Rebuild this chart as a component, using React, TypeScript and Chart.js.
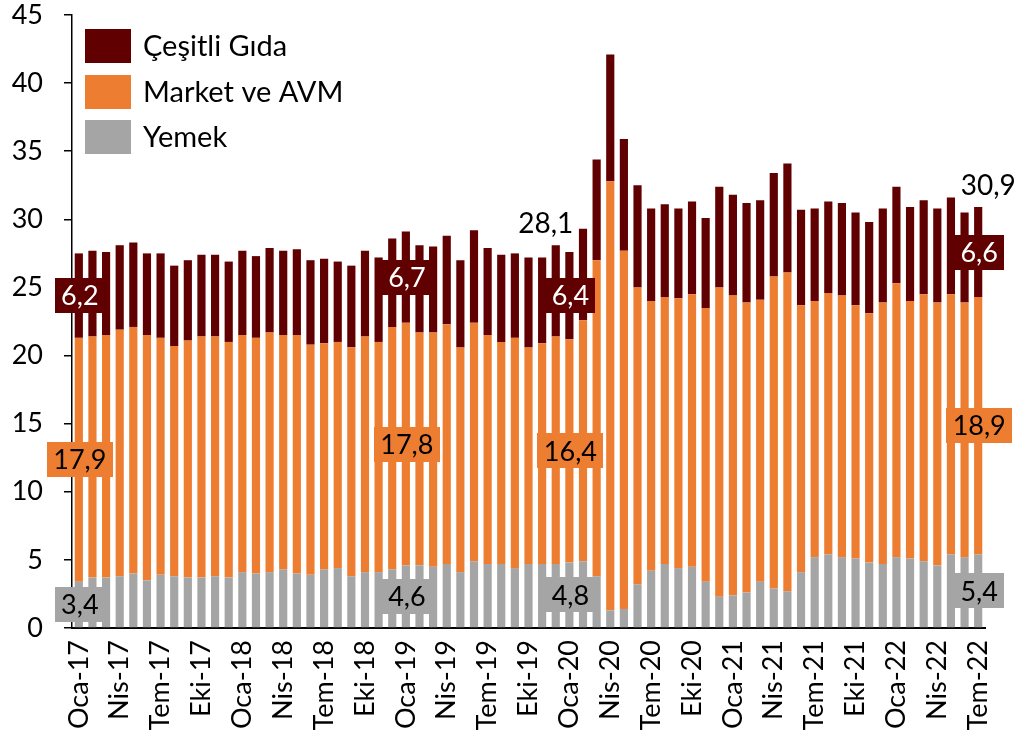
import React, { useEffect, useRef } from 'react';
import { Chart, registerables } from 'chart.js';

Chart.register(...registerables);

const categories = [
  'Oca-17', 'Şub-17', 'Mar-17', 'Nis-17', 'May-17', 'Haz-17', 'Tem-17', 'Ağu-17', 'Eyl-17', 'Eki-17', 'Kas-17', 'Ara-17',
  'Oca-18', 'Şub-18', 'Mar-18', 'Nis-18', 'May-18', 'Haz-18', 'Tem-18', 'Ağu-18', 'Eyl-18', 'Eki-18', 'Kas-18', 'Ara-18',
  'Oca-19', 'Şub-19', 'Mar-19', 'Nis-19', 'May-19', 'Haz-19', 'Tem-19', 'Ağu-19', 'Eyl-19', 'Eki-19', 'Kas-19', 'Ara-19',
  'Oca-20', 'Şub-20', 'Mar-20', 'Nis-20', 'May-20', 'Haz-20', 'Tem-20', 'Ağu-20', 'Eyl-20', 'Eki-20', 'Kas-20', 'Ara-20',
  'Oca-21', 'Şub-21', 'Mar-21', 'Nis-21', 'May-21', 'Haz-21', 'Tem-21', 'Ağu-21', 'Eyl-21', 'Eki-21', 'Kas-21', 'Ara-21',
  'Oca-22', 'Şub-22', 'Mar-22', 'Nis-22', 'May-22', 'Haz-22', 'Tem-22',
];

// Yemek (bottom, gray)
const yemek = [
  3.4, 3.7, 3.7, 3.8, 4.0, 3.5, 3.9, 3.8, 3.7, 3.7, 3.8, 3.7,
  4.1, 4.0, 4.1, 4.3, 4.0, 3.9, 4.3, 4.4, 3.8, 4.1, 4.1, 4.3,
  4.6, 4.6, 4.5, 4.7, 4.1, 4.9, 4.7, 4.7, 4.4, 4.7, 4.7, 4.7,
  4.8, 4.9, 3.8, 1.3, 1.4, 3.2, 4.2, 4.7, 4.4, 4.5, 3.4, 2.3,
  2.4, 2.6, 3.4, 2.9, 2.7, 4.1, 5.2, 5.4, 5.2, 5.1, 4.8, 4.7,
  5.2, 5.1, 4.9, 4.6, 5.4, 5.2, 5.4,
];

// Market ve AVM (middle, orange)
const market = [
  17.9, 17.7, 17.8, 18.1, 18.1, 18.0, 17.4, 16.9, 17.4, 17.7, 17.6, 17.3,
  17.4, 17.3, 17.6, 17.2, 17.5, 16.9, 16.6, 16.6, 16.8, 17.3, 16.9, 17.8,
  17.8, 17.1, 17.2, 17.6, 16.5, 17.5, 16.8, 16.3, 16.9, 15.9, 16.2, 16.7,
  16.4, 17.7, 23.2, 31.5, 26.3, 21.8, 19.8, 19.6, 19.8, 20.0, 20.1, 22.7,
  22.0, 21.3, 20.7, 22.9, 23.4, 19.6, 18.8, 19.2, 19.2, 18.6, 18.3, 19.2,
  20.1, 18.9, 19.6, 19.3, 19.1, 18.7, 18.9,
];

// Çeşitli Gıda (top, dark red)
const cesitli = [
  6.2, 6.3, 6.1, 6.2, 6.2, 6.0, 6.2, 5.9, 5.9, 6.0, 6.0, 5.9,
  6.2, 6.0, 6.2, 6.2, 6.3, 6.2, 6.2, 5.9, 6.0, 6.3, 6.2, 6.5,
  6.7, 6.4, 6.3, 6.5, 6.4, 6.8, 6.4, 6.4, 6.2, 6.6, 6.3, 6.7,
  6.4, 6.7, 7.4, 9.3, 8.2, 7.5, 6.8, 6.8, 6.6, 6.8, 6.6, 7.4,
  7.4, 7.3, 7.3, 7.6, 8.0, 7.0, 6.8, 6.7, 6.8, 6.8, 6.7, 6.9,
  7.1, 6.9, 6.9, 6.9, 7.1, 6.6, 6.6,
];

const yTicks = [0, 5, 10, 15, 20, 25, 30, 35, 40, 45];
const segmentLabelIdx = [0, 24, 36, 66];
const totalLabelIdx = [35, 66];

const COLORS = { yemek: '#A5A5A5', market: '#ED7D31', cesitli: '#600000' };
const FONT = 'Lato';

const fmt = (v: number) => v.toFixed(1).replace('.', ',');

const labelsPlugin = {
  id: 'segmentLabels',
  afterDatasetsDraw(chart: any) {
    const ctx = chart.ctx;
    ctx.save();
    ctx.textAlign = 'center';
    ctx.textBaseline = 'middle';
    ctx.font = `27px ${FONT}`;
    const txtColors = ['#000000', '#000000', '#FFFFFF'];
    chart.data.datasets.forEach((ds: any, di: number) => {
      const meta = chart.getDatasetMeta(di);
      segmentLabelIdx.forEach((i) => {
        const el = meta.data[i];
        if (!el) return;
        const txt = fmt(ds.data[i]);
        const cx = el.x + 1;
        const cy = (el.y + el.base) / 2;
        const w = ctx.measureText(txt).width + 13;
        const h = 35;
        ctx.fillStyle = ds.backgroundColor;
        ctx.fillRect(Math.round(cx - w / 2), Math.round(cy - h / 2), Math.round(w), h);
        ctx.fillStyle = txtColors[di];
        ctx.fillText(txt, cx, cy + 1);
      });
    });
    // totals
    ctx.font = `28px ${FONT}`;
    ctx.fillStyle = '#000000';
    ctx.textBaseline = 'alphabetic';
    const topMeta = chart.getDatasetMeta(chart.data.datasets.length - 1);
    const offsets: Record<number, number> = { 35: -10, 66: 10 };
    totalLabelIdx.forEach((i) => {
      const el = topMeta.data[i];
      const total = yemek[i] + market[i] + cesitli[i];
      ctx.fillText(fmt(total), el.x + (offsets[i] || 0), el.y - 12);
    });
    ctx.restore();
  },
};

const legendPlugin = {
  id: 'customLegend',
  afterDraw(chart: any) {
    const ctx = chart.ctx;
    const items = [
      { label: 'Çeşitli Gıda', color: COLORS.cesitli },
      { label: 'Market ve AVM', color: COLORS.market },
      { label: 'Yemek', color: COLORS.yemek },
    ];
    ctx.save();
    ctx.font = `29px ${FONT}`;
    ctx.textAlign = 'left';
    ctx.textBaseline = 'middle';
    items.forEach((it, k) => {
      const top = 29 + k * 45.5;
      ctx.fillStyle = it.color;
      ctx.fillRect(85, Math.round(top), 46, 34);
      ctx.fillStyle = '#000000';
      ctx.fillText(it.label, 143, top + 18);
    });
    ctx.restore();
  },
};

export default function App() {
  const ref = useRef<HTMLCanvasElement>(null);
  useEffect(() => {
    document.body.style.margin = '0';
    if (!ref.current) return;
    const chart = new Chart(ref.current, {
      type: 'bar',
      data: {
        labels: categories,
        datasets: [
          { label: 'Yemek', data: yemek, backgroundColor: COLORS.yemek, stack: 's', barPercentage: 0.6, categoryPercentage: 1 },
          { label: 'Market ve AVM', data: market, backgroundColor: COLORS.market, stack: 's', barPercentage: 0.6, categoryPercentage: 1 },
          { label: 'Çeşitli Gıda', data: cesitli, backgroundColor: COLORS.cesitli, stack: 's', barPercentage: 0.6, categoryPercentage: 1 },
        ],
      },
      options: {
        responsive: false,
        animation: false,
        layout: { padding: { top: 15, right: 35, left: 0, bottom: 0 } },
        plugins: { legend: { display: false }, tooltip: { enabled: false } },
        scales: {
          x: {
            stacked: true,
            grid: { display: false, drawTicks: false },
            border: { display: true, color: '#000000', width: 2 },
            ticks: {
              autoSkip: false,
              minRotation: 90,
              maxRotation: 90,
              padding: 12,
              color: '#000000',
              font: { family: FONT, size: 27 },
              callback: (_v: any, idx: number) => (idx % 3 === 0 ? categories[idx] : ''),
            },
            afterFit: (s: any) => {
              s.height = 110;
              s.paddingLeft = 0; s.paddingRight = 0; s.paddingTop = 0; s.paddingBottom = 0;
            },
          },
          y: {
            stacked: true,
            min: 0,
            max: 45,
            afterBuildTicks: (s: any) => { s.ticks = yTicks.map((v) => ({ value: v })); },
            grid: { display: true, drawOnChartArea: false, drawTicks: true, tickLength: 8, color: '#000000', lineWidth: 1.5 },
            border: { display: true, color: '#000000', width: 1.5 },
            ticks: { padding: 21, color: '#000000', font: { family: FONT, size: 27 } },
            afterFit: (s: any) => {
              s.width = 72;
              s.paddingLeft = 0; s.paddingRight = 0; s.paddingTop = 0; s.paddingBottom = 0;
            },
          },
        },
      },
      plugins: [labelsPlugin, legendPlugin],
    } as any);
    return () => chart.destroy();
  }, []);
  return (
    <div style={{ width: 1020, height: 738 }}>
      <canvas ref={ref} width={1020} height={738} style={{ display: 'block' }} />
    </div>
  );
}
